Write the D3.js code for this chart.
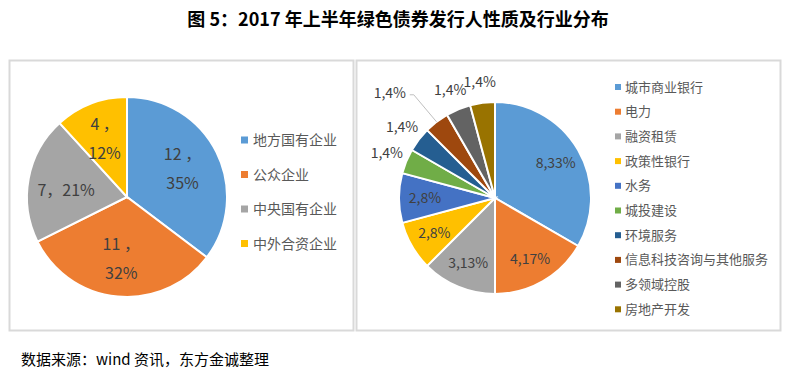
<!DOCTYPE html>
<html>
<head>
<meta charset="utf-8">
<script src="https://cdn.jsdelivr.net/npm/d3@7/dist/d3.min.js"></script>
<style>
  body { margin: 0; background: #fff; }
  svg { display: block; font-family: "Noto Sans CJK SC", "Noto Sans", sans-serif; }
  .panel { fill: none; stroke: #d9d9d9; stroke-width: 2; }
  .slice { stroke: #fff; stroke-width: 2; }
  .lbl { fill: #404040; }
  .leg-text { fill: #595959; }
</style>
</head>
<body>
<div class="chart-container"></div>
<script>
// left pie: issuer type
var typeNames = ['地方国有企业', '公众企业', '中央国有企业', '中外合资企业'];
var typeCounts = [12, 11, 7, 4];
var typePct = ['35%', '32%', '21%', '12%'];
var typeWrap = [true, true, false, true];

// right pie: industry
var industryNames = ['城市商业银行', '电力', '融资租赁', '政策性银行', '水务', '城投建设',
  '环境服务', '信息科技咨询与其他服务', '多领域控股', '房地产开发'];
var industryCounts = [8, 4, 3, 2, 2, 1, 1, 1, 1, 1];
var industryPct = ['33%', '17%', '13%', '8%', '8%', '4%', '4%', '4%', '4%', '4%'];

var officeColors = ['#5B9BD5', '#ED7D31', '#A5A5A5', '#FFC000', '#4472C4',
  '#70AD47', '#255E91', '#9E480E', '#636363', '#997300'];

var width = 792;
var height = 377;

var svg = d3.select('.chart-container').append('svg')
  .attr('width', width)
  .attr('height', height);

// title
svg.append('text')
  .attr('x', 398)
  .attr('y', 26)
  .attr('text-anchor', 'middle')
  .attr('font-size', 18)
  .attr('font-weight', 'bold')
  .attr('fill', '#000')
  .text('图 5：2017 年上半年绿色债券发行人性质及行业分布');

// panel frames
svg.append('rect').attr('class', 'panel')
  .attr('x', 9.5).attr('y', 60.5).attr('width', 344).attr('height', 270);
svg.append('rect').attr('class', 'panel')
  .attr('x', 356.5).attr('y', 60.5).attr('width', 424).attr('height', 270);

var pie = d3.pie().sort(null);
var color = d3.scaleOrdinal().range(officeColors);

// ---------- left pie ----------
var leftR = 100;
var gL = svg.append('g').attr('transform', 'translate(127,197)');
var arcL = d3.arc().innerRadius(0).outerRadius(leftR);
var labelArcL = d3.arc().innerRadius(leftR * 0.62).outerRadius(leftR * 0.62);
var arcsL = pie(typeCounts);

gL.selectAll('.slice')
  .data(arcsL)
  .enter()
  .append('path')
    .attr('class', 'slice')
    .attr('d', arcL)
    .attr('fill', function (d, i) { return color(i); });

gL.selectAll('.lbl')
  .data(arcsL)
  .enter()
  .append('text')
    .attr('class', 'lbl')
    .attr('font-size', 16)
    .attr('text-anchor', 'middle')
    .each(function (d, i) {
      var c = labelArcL.centroid(d);
      var t = d3.select(this);
      if (typeWrap[i]) {
        t.append('tspan').attr('x', c[0]).attr('y', c[1] - 9).text(d.data + ' ，');
        t.append('tspan').attr('x', c[0]).attr('y', c[1] + 20).text(typePct[i]);
      } else {
        t.append('tspan').attr('x', c[0]).attr('y', c[1] + 10).text(d.data + '，' + typePct[i]);
      }
    });

var legL = svg.append('g').attr('transform', 'translate(241,140)');
var legItemsL = legL.selectAll('g')
  .data(typeNames)
  .enter()
  .append('g')
    .attr('transform', function (d, i) { return 'translate(0,' + (i * 34.5) + ')'; });
legItemsL.append('rect')
  .attr('x', 0).attr('y', -3.5).attr('width', 7).attr('height', 7)
  .attr('fill', function (d, i) { return color(i); });
legItemsL.append('text')
  .attr('class', 'leg-text')
  .attr('x', 12).attr('y', 5)
  .attr('font-size', 14)
  .text(function (d) { return d; });

// ---------- right pie ----------
var rightR = 96;
var gR = svg.append('g').attr('transform', 'translate(495,198)');
var arcR = d3.arc().innerRadius(0).outerRadius(rightR);
var arcsR = pie(industryCounts);

gR.selectAll('.slice')
  .data(arcsR)
  .enter()
  .append('path')
    .attr('class', 'slice')
    .attr('d', arcR)
    .attr('fill', function (d, i) { return color(i); });

// label placement: inside for big slices, outside for small ones
function labelPos(d, i) {
  var share = d.data / d3.sum(industryCounts);
  var k = share > 0.05 ? 0.73 : 1.22;
  var a = (d.startAngle + d.endAngle) / 2;
  if (i === 7) { k = 1.55; a -= Math.PI / 24; } // pushed out, with leader line
  return [Math.sin(a) * rightR * k, -Math.cos(a) * rightR * k];
}

// leader line for the pushed-out label
gR.selectAll('.leader')
  .data(arcsR.filter(function (d, i) { return i === 7; }))
  .enter()
  .append('polyline')
    .attr('class', 'leader')
    .attr('fill', 'none')
    .attr('stroke', '#bfbfbf')
    .attr('stroke-width', 1)
    .attr('points', function (d) {
      var a = (d.startAngle + d.endAngle) / 2;
      var p = labelPos(d, 7);
      var edge = [Math.sin(a) * rightR, -Math.cos(a) * rightR];
      return [[p[0] + 20, p[1] + 2], [p[0] + 24, p[1] + 2], edge].join(' ');
    });

gR.selectAll('.lbl')
  .data(arcsR)
  .enter()
  .append('text')
    .attr('class', 'lbl')
    .attr('font-size', 14)
    .attr('text-anchor', 'middle')
    .attr('x', function (d, i) { return labelPos(d, i)[0]; })
    .attr('y', function (d, i) { return labelPos(d, i)[1] + 5; })
    .text(function (d, i) { return d.data + ',' + industryPct[i]; });

var legR = svg.append('g').attr('transform', 'translate(615,87)');
var legItemsR = legR.selectAll('g')
  .data(industryNames)
  .enter()
  .append('g')
    .attr('transform', function (d, i) { return 'translate(0,' + (i * 24.7) + ')'; });
legItemsR.append('rect')
  .attr('x', 0).attr('y', -3).attr('width', 6).attr('height', 6)
  .attr('fill', function (d, i) { return color(i); });
legItemsR.append('text')
  .attr('class', 'leg-text')
  .attr('x', 10).attr('y', 4.5)
  .attr('font-size', 13)
  .text(function (d) { return d; });

// source note
svg.append('text')
  .attr('x', 21)
  .attr('y', 365)
  .attr('font-size', 15)
  .attr('fill', '#000')
  .text('数据来源：wind 资讯，东方金诚整理');
</script>
</body>
</html>
